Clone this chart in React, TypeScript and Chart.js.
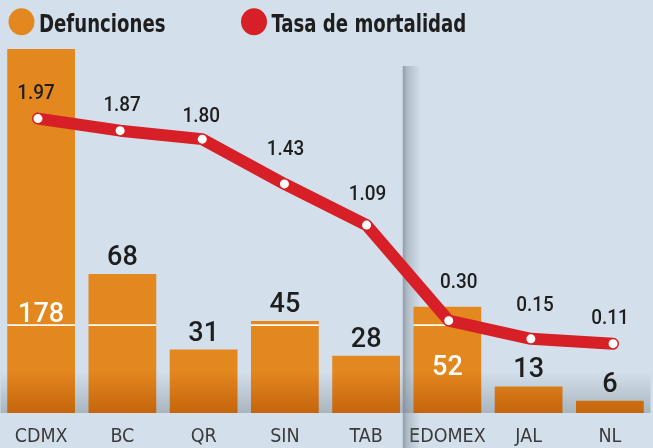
import React, { useEffect, useRef } from "react";
import { Chart, registerables } from "chart.js";

Chart.register(...registerables);

// ---------- data ----------
const categories = ["CDMX", "BC", "QR", "SIN", "TAB", "EDOMEX", "JAL", "NL"];
const deaths = [178, 68, 31, 45, 28, 52, 13, 6];
const mortalityRate = [1.97, 1.87, 1.8, 1.43, 1.09, 0.3, 0.15, 0.11];
const seriesNames = ["Defunciones", "Tasa de mortalidad"];

// ---------- styling / layout config ----------
const BG = "rgb(211,224,235)";
const ORANGE = "#e3871f";
const ORANGE_DARK = "#c4650c";
const RED = "#d71f27";
const DARK = "#1e1e1e";
const COND = "'DejaVu Sans Condensed', 'DejaVu Sans', sans-serif";
const NUM = "Roboto, 'Liberation Sans', sans-serif";
const CANVAS_W = 659;
const CANVAS_SHIFT = 4; // canvas is shifted left so the plot bleeds slightly past the edges
const rateLabelLift = [27, 27, 25, 36, 33, 40, 35, 27];
const rateLabelShift = [-2, 2, -1, 1, 1, 10, 4, -3];
const insideLabelLevel: Record<number, number> = { 0: 49.5, 5: 23.5 };
const dividerAfterIndex = 4;
const whiteRuleValue = 43;

function squeezedText(ctx: CanvasRenderingContext2D, txt: string, x: number, y: number, k: number, align: "center" | "left") {
  ctx.save();
  ctx.translate(x, y);
  ctx.scale(k, 1);
  ctx.textAlign = align;
  ctx.fillText(txt, 0, 0);
  ctx.restore();
}

const decorPlugin = {
  id: "decor",
  beforeDraw(chart: any) {
    const { ctx, width, height } = chart;
    ctx.save();
    ctx.fillStyle = BG;
    ctx.fillRect(0, 0, width, height);
    ctx.restore();
  },
  beforeDatasetsDraw(chart: any) {
    const { ctx, chartArea: a, height } = chart;
    const x = chart.scales.x;
    ctx.save();
    // ground shadow band
    const g = ctx.createLinearGradient(0, a.bottom - 42, 0, a.bottom);
    g.addColorStop(0, "rgba(110,120,128,0)");
    g.addColorStop(1, "rgba(110,120,128,0.42)");
    ctx.fillStyle = g;
    ctx.fillRect(a.left, a.bottom - 42, a.right - a.left, 42);
    // vertical divider
    const mid =
      (x.getPixelForValue(dividerAfterIndex) + x.getPixelForValue(dividerAfterIndex + 1)) / 2 - 4;
    const dg = ctx.createLinearGradient(mid, 0, mid + 18, 0);
    dg.addColorStop(0, "rgba(110,122,132,0.65)");
    dg.addColorStop(0.25, "rgba(110,122,132,0.35)");
    dg.addColorStop(1, "rgba(110,122,132,0)");
    ctx.fillStyle = dg;
    ctx.fillRect(mid, a.top + 21, 18, height - (a.top + 21));
    ctx.restore();
  },
  afterDatasetDraw(chart: any, args: any) {
    if (args.index !== 0) return;
    const { ctx } = chart;
    const y = chart.scales.y;
    const py = y.getPixelForValue(whiteRuleValue);
    ctx.save();
    ctx.strokeStyle = "rgba(255,255,255,0.95)";
    ctx.lineWidth = 1.6;
    args.meta.data.forEach((bar: any, i: number) => {
      if (deaths[i] <= whiteRuleValue) return;
      ctx.beginPath();
      ctx.moveTo(bar.x - bar.width / 2, py);
      ctx.lineTo(bar.x + bar.width / 2, py);
      ctx.stroke();
    });
    ctx.restore();
  },
  afterDatasetsDraw(chart: any) {
    const { ctx } = chart;
    const y = chart.scales.y;
    const bars = chart.getDatasetMeta(0).data;
    const pts = chart.getDatasetMeta(1).data;
    ctx.save();
    ctx.textAlign = "center";
    ctx.textBaseline = "alphabetic";
    // bar value labels
    ctx.font = `500 27px ${NUM}`;
    bars.forEach((bar: any, i: number) => {
      const txt = String(deaths[i]);
      if (insideLabelLevel[i] !== undefined) {
        ctx.fillStyle = "#ffffff";
        const cy = y.getPixelForValue(insideLabelLevel[i]);
        ctx.fillText(txt, bar.x, cy + 0.36 * 27);
      } else {
        ctx.fillStyle = DARK;
        ctx.fillText(txt, bar.x, bar.y - 9);
      }
    });
    // rate labels
    ctx.font = `500 21px ${NUM}`;
    ctx.fillStyle = DARK;
    pts.forEach((p: any, i: number) => {
      const cy = p.y - rateLabelLift[i];
      squeezedText(ctx, mortalityRate[i].toFixed(2), p.x + rateLabelShift[i], cy + 0.36 * 21, 0.9, "center");
    });
    // legend
    const colors = [ORANGE, RED];
    const lx = [21.5 + CANVAS_SHIFT, 254 + CANVAS_SHIFT];
    ctx.font = `bold 24px ${COND}`;
    chart.data.datasets.forEach((ds: any, i: number) => {
      ctx.fillStyle = colors[i];
      ctx.beginPath();
      ctx.ellipse(lx[i], 21.7, 13, 13.5, 0, 0, Math.PI * 2);
      ctx.fill();
      ctx.fillStyle = DARK;
      squeezedText(ctx, ds.label, lx[i] + 17.5, 31.5, 0.84, "left");
    });
    ctx.restore();
  },
};

export default function App() {
  const ref = useRef<HTMLCanvasElement | null>(null);
  useEffect(() => {
    if (!ref.current) return;
    const chart = new Chart(ref.current, {
      type: "bar",
      data: {
        labels: categories,
        datasets: [
          {
            type: "bar",
            label: seriesNames[0],
            data: deaths,
            xAxisID: "x",
            yAxisID: "y",
            backgroundColor: (c: any) => {
              const a = c.chart.chartArea;
              if (!a) return ORANGE;
              const g = c.chart.ctx.createLinearGradient(0, a.bottom - 42, 0, a.bottom);
              g.addColorStop(0, ORANGE);
              g.addColorStop(1, ORANGE_DARK);
              return g;
            },
            borderWidth: 0,
            grouped: false,
            barPercentage: 0.834,
            categoryPercentage: 1,
            order: 2,
          } as any,
          {
            type: "line",
            label: seriesNames[1],
            data: mortalityRate.map((v, i) => ({ x: i, y: v })),
            xAxisID: "xl",
            yAxisID: "y2",
            borderColor: RED,
            borderWidth: 12,
            borderCapStyle: "round",
            borderJoinStyle: "round",
            tension: 0,
            pointRadius: 4.5,
            pointBackgroundColor: "#ffffff",
            pointBorderColor: "#ffffff",
            pointBorderWidth: 0,
            clip: false,
            order: 1,
          } as any,
        ],
      },
      options: {
        responsive: false,
        animation: false,
        devicePixelRatio: 1,
        layout: { padding: { top: 45, left: 0, right: 0, bottom: 0 } },
        plugins: { legend: { display: false }, tooltip: { enabled: false } },
        scales: {
          x: {
            type: "category",
            offset: true,
            grid: { display: false, drawTicks: false },
            border: { display: false },
            ticks: {
              color: "#3a3a3a",
              font: { family: COND, size: 19.5 },
              padding: 12,
              maxRotation: 0,
              autoSkip: false,
            },
            afterFit: (s: any) => {
              s.height = 35;
              s.paddingLeft = 0;
              s.paddingRight = 0;
            },
          },
          xl: { type: "linear", display: false, offset: false, min: -0.456, max: 7.456 },
          y: { display: false, min: 0, max: 180 },
          y2: { display: false, min: -0.463, max: 2.578 },
        },
      } as any,
      plugins: [decorPlugin],
    });
    return () => chart.destroy();
  }, []);
  return (
    <div style={{ position: "fixed", left: 0, top: 0, width: 653, height: 448, overflow: "hidden" }}>
      <canvas
        ref={ref}
        width={CANVAS_W}
        height={448}
        style={{ position: "absolute", left: -CANVAS_SHIFT, top: 0, width: CANVAS_W, height: 448 }}
      />
    </div>
  );
}
